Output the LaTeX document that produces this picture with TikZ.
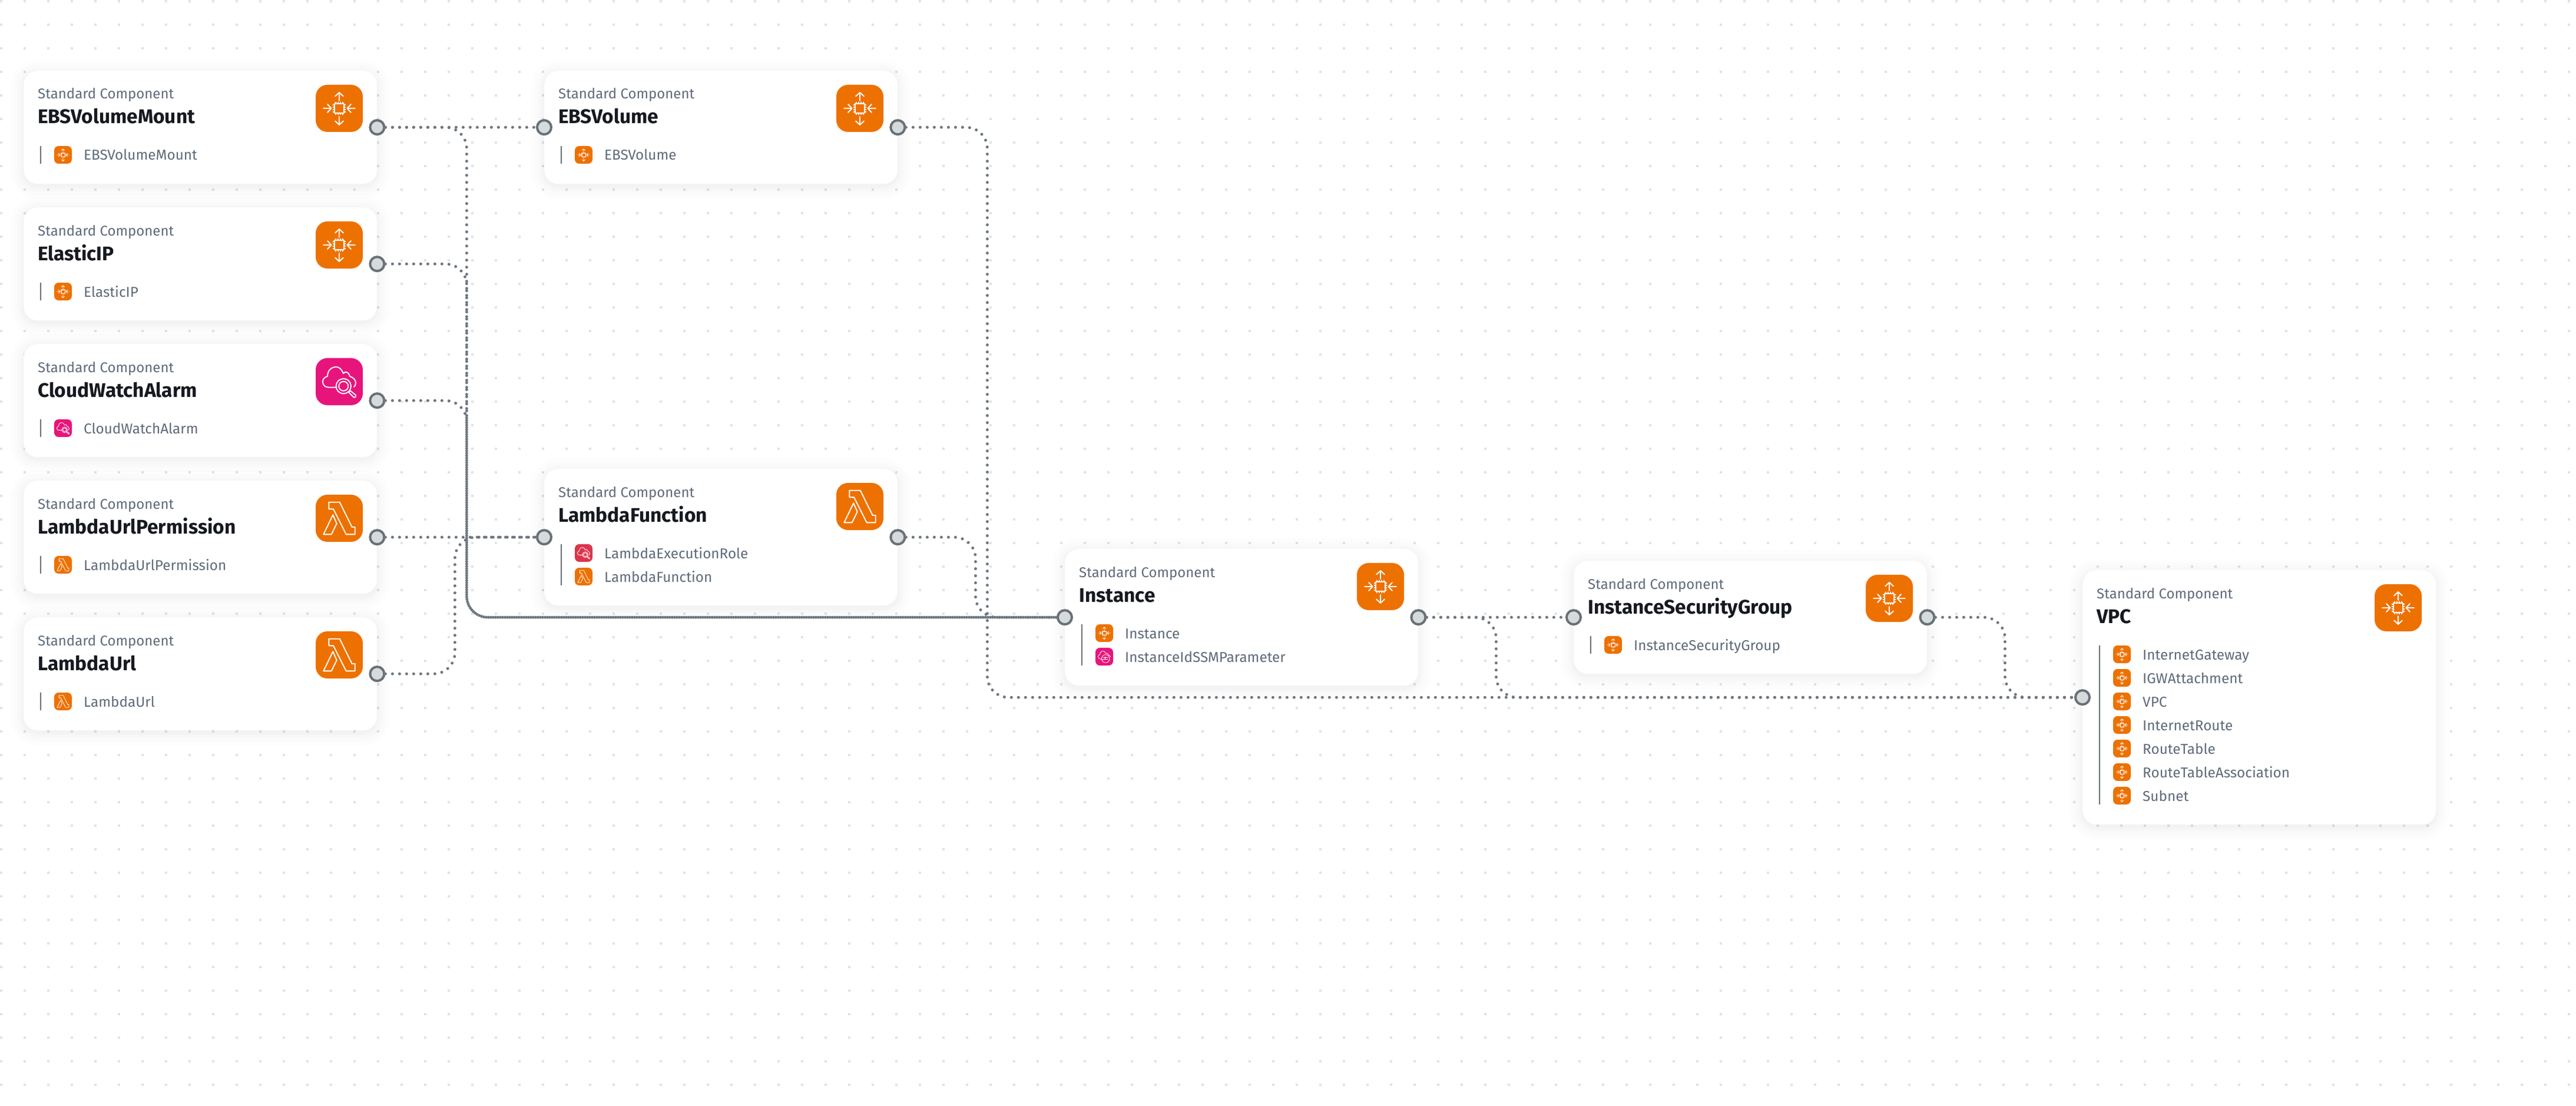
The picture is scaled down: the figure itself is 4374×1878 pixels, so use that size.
\documentclass[tikz,border=0pt]{standalone}
\usepackage{fontspec}
\setmainfont{Fira Sans}
\usepackage{xcolor}
\usepackage{tikz}
\usetikzlibrary{positioning}

\definecolor{iconorange}{HTML}{ED7100}
\definecolor{iconpink}{HTML}{E7157B}
\definecolor{iconred}{HTML}{DD344C}
\definecolor{portfill}{HTML}{D5DBDB}
\definecolor{portline}{HTML}{687078}
\definecolor{linkgrey}{HTML}{6E7780}
\definecolor{griddot}{HTML}{DFE4E4}
\definecolor{labelgrey}{HTML}{5F6B7A}
\definecolor{titleink}{HTML}{16191F}

\tikzset{
    griddots/.style={griddot, line width=4, dash pattern=on 4pt off 36pt},
    softshade/.style={black, opacity=0.009},
    cardbox/.style={anchor=north west, fill=white, minimum width=600, inner sep=0, rounded corners=24},
    iconbox/.style={minimum size=80, inner sep=0, rounded corners=20},
    itembox/.style={minimum size=30, inner sep=0, rounded corners=7.5},
    stdlabel/.style={anchor=base west, inner sep=0, text=labelgrey, font=\fontsize{24}{28}\selectfont},
    titlelabel/.style={anchor=base west, inner sep=0, text=titleink, font=\fontsize{33.5}{38}\selectfont\bfseries},
    itemlabel/.style={anchor=base west, inner sep=0, text=labelgrey, font=\fontsize{24.3}{28}\selectfont},
    itembar/.style={portline, line width=2},
    port/.style={circle, draw=portline, fill=portfill, line width=4, minimum size=24, inner sep=0},
    link/.style={linkgrey, line width=5, line cap=round, dash pattern=on 0pt off 12pt, rounded corners=36},
    glyphbig/.style={white, line width=1.9, line cap=round, line join=round},
    glyphsmall/.style={white, line width=0.8, line cap=round, line join=round},
    pics/chipicon/.style={code={
        \draw[#1] (-8,-8) rectangle (8,8);
        \foreach \t in {-6,-2,2,6} {
            \draw[#1] (\t,-8) -- (\t,-10.5) (\t,8) -- (\t,10.5);
            \draw[#1] (-8,\t) -- (-10.5,\t) (8,\t) -- (10.5,\t);
        }
        % arrows out, up and down
        \draw[#1] (0,-13) -- (0,-27) (-7,-20.5) -- (0,-27) -- (7,-20.5);
        \draw[#1] (0,14) -- (0,28) (-7,21.5) -- (0,28) -- (7,21.5);
        % arrows in, left and right
        \draw[#1] (-27,0) -- (-13.5,0) (-20,-7) -- (-13.5,0) -- (-20,7);
        \draw[#1] (27,0) -- (13.5,0) (20,-7) -- (13.5,0) -- (20,7);
    }},
    pics/lambdaicon/.style={code={
        \draw[#1] (-17.7,-27.3) -- (0.7,-27.3) -- (21.7,15) -- (26.7,15) -- (26.7,27.3) -- (11.7,27.3) -- (-10,-15.7) -- (-17.7,-15.7) -- cycle;
        \draw[#1] (-10.7,-5.7) -- (-4.3,9) -- (-13.3,27.3) -- (-26.7,27.3) -- cycle;
    }},
    pics/cloudicon/.style={code={
        \draw[#1] (-6,9.7) -- (-18,9.7) .. controls (-24,9.7) and (-28,6) .. (-28,0) .. controls (-28,-5) and (-24,-8) .. (-20,-9) .. controls (-20,-18) and (-14,-25) .. (-5,-25) .. controls (1,-25) and (5,-19) .. (7,-14) .. controls (10,-18) and (16,-17) .. (18,-9) .. controls (24,-7) and (28,-3) .. (28,2) .. controls (28,5) and (27,7) .. (25,9);
        \draw[#1] (7.3,7.7) circle (12.7) (7.3,7.7) circle (8);
        \draw[#1] (16,18) -- (19,15.5) -- (28,23) .. controls (29,25) and (27,28) .. (25,27) -- cycle;
    }},
    pics/paramicon/.style={code={
        \draw[#1] (-6,14) -- (-18,10) .. controls (-24,9.7) and (-28,6) .. (-28,0) .. controls (-28,-5) and (-24,-8) .. (-20,-9) .. controls (-20,-18) and (-14,-25) .. (-5,-25) .. controls (1,-25) and (5,-19) .. (7,-14) .. controls (10,-18) and (16,-17) .. (18,-9) .. controls (24,-7) and (28,-3) .. (28,2);
        \draw[#1] (6,9) circle (18);
        \draw[#1] (-4,5) -- (16,5) (-4,13) -- (16,13) (5,1) -- (5,9);
    }},
}

% name, x, y, height, title, icon colour, icon pic, items
\newcommand{\stdcard}[8]{%
    \foreach \s in {2,4,7,11,16,22}
        \fill[softshade, rounded corners={(24+\s)*1pt}] ({#2-\s},{#3-\s+4}) rectangle ({#2+600+\s},{#3+#4+\s+4});
    \node[cardbox, minimum height=#4] (#1) at (#2,#3) {};
    \node[stdlabel] (#1kind) at (#2+24,#3+48) {Standard Component};
    \node[titlelabel] (#1title) at (#2+24,#3+90) {#5};
    \node[iconbox, fill=#6] (#1icon) at (#2+536,#3+64) {};
    \pic at (#1icon) {#7=glyphbig};
    \draw[itembar] (#2+28.5,#3+128) -- (#2+28.5,#3+#4-34);
    \foreach \iname/\icolor/\ipic [count=\i from 0] in {#8} {
        \node[itembox, fill=\icolor] (#1item\i) at (#2+67,#3+143+40*\i) {};
        \pic[scale=0.375] at (#1item\i) {\ipic=glyphsmall};
        \node[itemlabel] (#1label\i) at (#2+102,#3+152+40*\i) {\iname};
    }
}

\begin{document}
\begin{tikzpicture}[x=1pt,y=-1pt]
    \useasboundingbox (0,0) rectangle (4374,1878);
    \fill[white] (0,0) rectangle (4374,1878);

    % Dotted canvas
    \foreach \gy in {0,40,...,1840}
        \draw[griddots] (0,\gy+2) -- (4374,\gy+2);

    % Left column
    \stdcard{ebsmount}{40}{120}{192}{EBSVolumeMount}{iconorange}{chipicon}{EBSVolumeMount/iconorange/chipicon}
    \stdcard{elasticip}{40}{352}{192}{ElasticIP}{iconorange}{chipicon}{ElasticIP/iconorange/chipicon}
    \stdcard{alarm}{40}{584}{192}{CloudWatchAlarm}{iconpink}{cloudicon}{CloudWatchAlarm/iconpink/cloudicon}
    \stdcard{urlperm}{40}{816}{192}{LambdaUrlPermission}{iconorange}{lambdaicon}{LambdaUrlPermission/iconorange/lambdaicon}
    \stdcard{lambdaurl}{40}{1048}{192}{LambdaUrl}{iconorange}{lambdaicon}{LambdaUrl/iconorange/lambdaicon}

    % Middle and right cards
    \stdcard{ebsvol}{924}{120}{192}{EBSVolume}{iconorange}{chipicon}{EBSVolume/iconorange/chipicon}
    \stdcard{lambdafn}{924}{796}{232}{LambdaFunction}{iconorange}{lambdaicon}{LambdaExecutionRole/iconred/cloudicon,LambdaFunction/iconorange/lambdaicon}
    \stdcard{instance}{1808}{932}{232}{Instance}{iconorange}{chipicon}{Instance/iconorange/chipicon,InstanceIdSSMParameter/iconpink/paramicon}
    \stdcard{secgroup}{2672}{952}{192}{InstanceSecurityGroup}{iconorange}{chipicon}{InstanceSecurityGroup/iconorange/chipicon}
    \stdcard{vpc}{3536}{968}{432}{VPC}{iconorange}{chipicon}{InternetGateway/iconorange/chipicon,IGWAttachment/iconorange/chipicon,VPC/iconorange/chipicon,InternetRoute/iconorange/chipicon,RouteTable/iconorange/chipicon,RouteTableAssociation/iconorange/chipicon,Subnet/iconorange/chipicon}

    % Ports
    \foreach \c in {ebsmount,elasticip,alarm,urlperm,lambdaurl,ebsvol,lambdafn,instance,secgroup}
        \node[port] (\c R) at (\c.east) {};
    \foreach \c in {ebsvol,lambdafn,instance,secgroup,vpc}
        \node[port] (\c L) at (\c.west) {};

    % Links into EBSVolume and LambdaFunction
    \draw[link] (ebsmountR) -- (ebsvolL);
    \draw[link] (urlpermR) -- (lambdafnL);
    \draw[link] (lambdaurlR) -- ++(132,0) |- (lambdafnL);

    % Links into Instance
    \draw[link] (ebsmountR) -- ++(152,0) |- (instanceL);
    \draw[link] (elasticipR) -- ++(152,0) |- (instanceL);
    \draw[link] (alarmR) -- ++(152,0) |- (instanceL);
    \draw[link] (lambdafnR) -- ++(132,0) |- (instanceL);

    % Links into InstanceSecurityGroup and VPC
    \draw[link] (instanceR) -- (secgroupL);
    \draw[link] (ebsvolR) -- ++(152,0) |- (vpcL);
    \draw[link] (instanceR) -- ++(132,0) |- (vpcL);
    \draw[link] (secgroupR) -- ++(132,0) |- (vpcL);
\end{tikzpicture}
\end{document}
